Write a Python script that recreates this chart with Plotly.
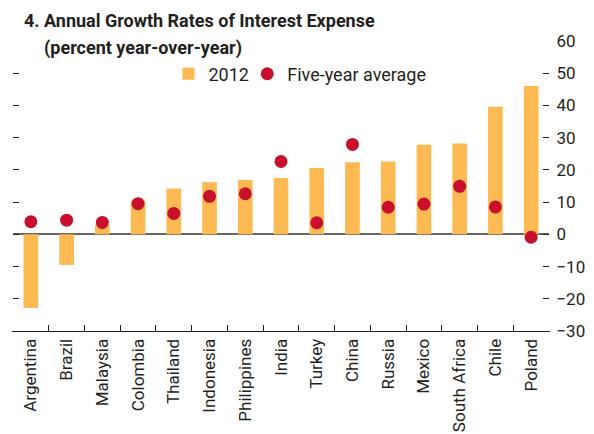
import plotly.graph_objects as go

countries = ["Argentina", "Brazil", "Malaysia", "Colombia", "Thailand", "Indonesia",
             "Philippines", "India", "Turkey", "China", "Russia", "Mexico",
             "South Africa", "Chile", "Poland"]
growth_2012 = [-22.9, -9.5, 2.9, 10.5, 14.2, 16.2, 16.9, 17.5, 20.6, 22.4, 22.6, 27.8, 28.2, 39.6, 46.0]
five_year_avg = [3.9, 4.4, 3.7, 9.5, 6.5, 11.8, 12.6, 22.6, 3.6, 27.9, 8.4, 9.4, 14.9, 8.5, -0.9]
y_ticks = [-30, -20, -10, 0, 10, 20, 30, 40, 50, 60]

FONT = "Roboto, Liberation Sans, sans-serif"
TXT = "#231F20"

fig = go.Figure()
fig.add_trace(go.Bar(x=countries, y=growth_2012, name="2012", legend="legend",
                     marker=dict(color="#FDBA52", line=dict(width=0)), width=0.41))
fig.add_trace(go.Scatter(x=countries, y=five_year_avg, name="Five-year average", mode="markers",
                         legend="legend2",
                         marker=dict(color="#C8102E", size=13, line=dict(width=0))))

leg_common = dict(orientation="h", yanchor="middle", xanchor="left", y=0.886,
                  font=dict(size=18, family=FONT, color=TXT), bgcolor="rgba(0,0,0,0)",
                  itemwidth=30)

fig.update_layout(
    width=594, height=434,
    margin=dict(l=13, r=45, t=41, b=103, autoexpand=False),
    plot_bgcolor="white", paper_bgcolor="white",
    font=dict(family=FONT, size=17, color=TXT),
    showlegend=True,
    legend=dict(x=0.29, **leg_common),
    legend2=dict(x=0.437, **leg_common),
    xaxis=dict(type="category", showline=True, linecolor=TXT, linewidth=1,
               ticks="inside", tickson="boundaries", ticklen=6, tickcolor=TXT,
               tickangle=-90, showgrid=False, tickfont=dict(size=17, family=FONT, color=TXT),
               range=[-0.5, 14.5], automargin=False),
    yaxis=dict(side="right", range=[-30, 60], tickvals=y_ticks, ticks="inside",
               ticklen=6, tickcolor=TXT, mirror="ticks", showline=True,
               linecolor="rgba(0,0,0,0)", showgrid=False,
               zeroline=True, zerolinecolor="#666666", zerolinewidth=1.5,
               tickfont=dict(size=17, family=FONT, color=TXT), automargin=False,
               ticklabelstandoff=3),
    bargap=0.59,
)

fig.add_annotation(xref="paper", yref="paper", x=0.016, y=1.072, xanchor="left", yanchor="middle",
                   text="<b>4. Annual Growth Rates of Interest Expense</b>", showarrow=False,
                   font=dict(size=18, family=FONT, color=TXT))
fig.add_annotation(xref="paper", yref="paper", x=0.055, y=0.976, xanchor="left", yanchor="middle",
                   text="<b>(percent year-over-year)</b>", showarrow=False,
                   font=dict(size=18, family=FONT, color=TXT))

fig.write_html("out.html", config={"displayModeBar": False},
               post_script="document.body.style.margin='0';document.body.style.overflow='hidden';")
